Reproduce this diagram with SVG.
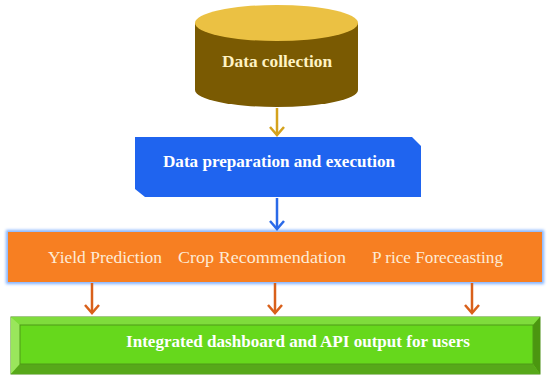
<svg xmlns="http://www.w3.org/2000/svg" width="550" height="382" viewBox="0 0 550 382">
<style>
.t{font-family:"Liberation Serif","Times New Roman",serif;}
.b{font-weight:bold;}
.conn line{fill:none;stroke-width:2.5;}
</style>
<defs>
<marker id="mGold" markerUnits="userSpaceOnUse" orient="auto" refX="0" refY="0" markerWidth="20" markerHeight="20" overflow="visible"><path d="M-8,-7 L0,0 L-8,7" fill="none" stroke="#d4a21c" stroke-width="2.5"/></marker>
<marker id="mBlue" markerUnits="userSpaceOnUse" orient="auto" refX="0" refY="0" markerWidth="20" markerHeight="20" overflow="visible"><path d="M-8,-7 L0,0 L-8,7" fill="none" stroke="#2a6ae8" stroke-width="2.5"/></marker>
<marker id="mOr" markerUnits="userSpaceOnUse" orient="auto" refX="0" refY="0" markerWidth="20" markerHeight="20" overflow="visible"><path d="M-8,-7 L0,0 L-8,7" fill="none" stroke="#d9601a" stroke-width="2.5"/></marker>
<filter id="glow" x="-5%" y="-30%" width="110%" height="160%"><feGaussianBlur stdDeviation="1.5"/></filter>
</defs>
<rect width="550" height="382" fill="#ffffff"/>

<g id="data-collection">
<path d="M195,23 L195,90 A81.5,17 0 0 0 358,90 L358,23 Z" fill="#7a5a02"/>
<ellipse cx="276.5" cy="23" rx="81.5" ry="18" fill="#ebc143"/>
<text class="t b" x="277" y="67" font-size="16" fill="#fff3c4" text-anchor="middle" textLength="110" lengthAdjust="spacingAndGlyphs">Data collection</text>
</g>

<g id="data-preparation">
<path d="M135,137 L412,137 L421,146 L421,197 L145,197 L135,189 Z" fill="#1f64ef"/>
<text class="t b" x="279" y="167" font-size="17" fill="#ffffff" text-anchor="middle" textLength="232" lengthAdjust="spacingAndGlyphs">Data preparation and execution</text>
</g>

<g id="models">
<rect x="8" y="232" width="534" height="50" fill="none" stroke="#7fb0ff" stroke-width="4" filter="url(#glow)"/>
<rect x="8" y="232" width="534" height="50" fill="#f77f22"/>
<text class="t" x="48" y="263" font-size="16" fill="#fdebd6" textLength="114" lengthAdjust="spacingAndGlyphs">Yield Prediction</text>
<text class="t" x="178" y="263" font-size="16" fill="#fdebd6" textLength="168" lengthAdjust="spacingAndGlyphs">Crop Recommendation</text>
<text class="t" x="372" y="263" font-size="16" fill="#fdebd6" textLength="131" lengthAdjust="spacingAndGlyphs">P rice Foreceasting</text>
</g>

<g id="dashboard">
<rect x="11" y="317" width="529" height="57" fill="#66d81c" stroke="#4a8f14" stroke-width="1"/>
<polygon points="11,317 540,317 533,325 20,325" fill="#7fdc3c"/>
<polygon points="11,317 20,325 20,364 11,374" fill="#9ae65c"/>
<polygon points="540,317 540,374 533,364 533,325" fill="#4b9610"/>
<polygon points="11,374 540,374 533,364 20,364" fill="#57a81a"/>
<rect x="20" y="325" width="513" height="39" fill="#66d81c" stroke="#4f9a16" stroke-width="1"/>
<text class="t b" x="298" y="347" font-size="16" fill="#ffffff" text-anchor="middle" textLength="344" lengthAdjust="spacingAndGlyphs">Integrated dashboard and API output for users</text>
</g>

<g id="connectors" class="conn">
<line x1="277" y1="108" x2="277" y2="135" stroke="#d4a21c" marker-end="url(#mGold)"/>
<line x1="277" y1="198" x2="277" y2="229" stroke="#2a6ae8" marker-end="url(#mBlue)"/>
<line x1="92" y1="283" x2="92" y2="313" stroke="#d9601a" marker-end="url(#mOr)"/>
<line x1="275" y1="283" x2="275" y2="313" stroke="#d9601a" marker-end="url(#mOr)"/>
<line x1="472" y1="283" x2="472" y2="313" stroke="#d9601a" marker-end="url(#mOr)"/>
</g>
</svg>
